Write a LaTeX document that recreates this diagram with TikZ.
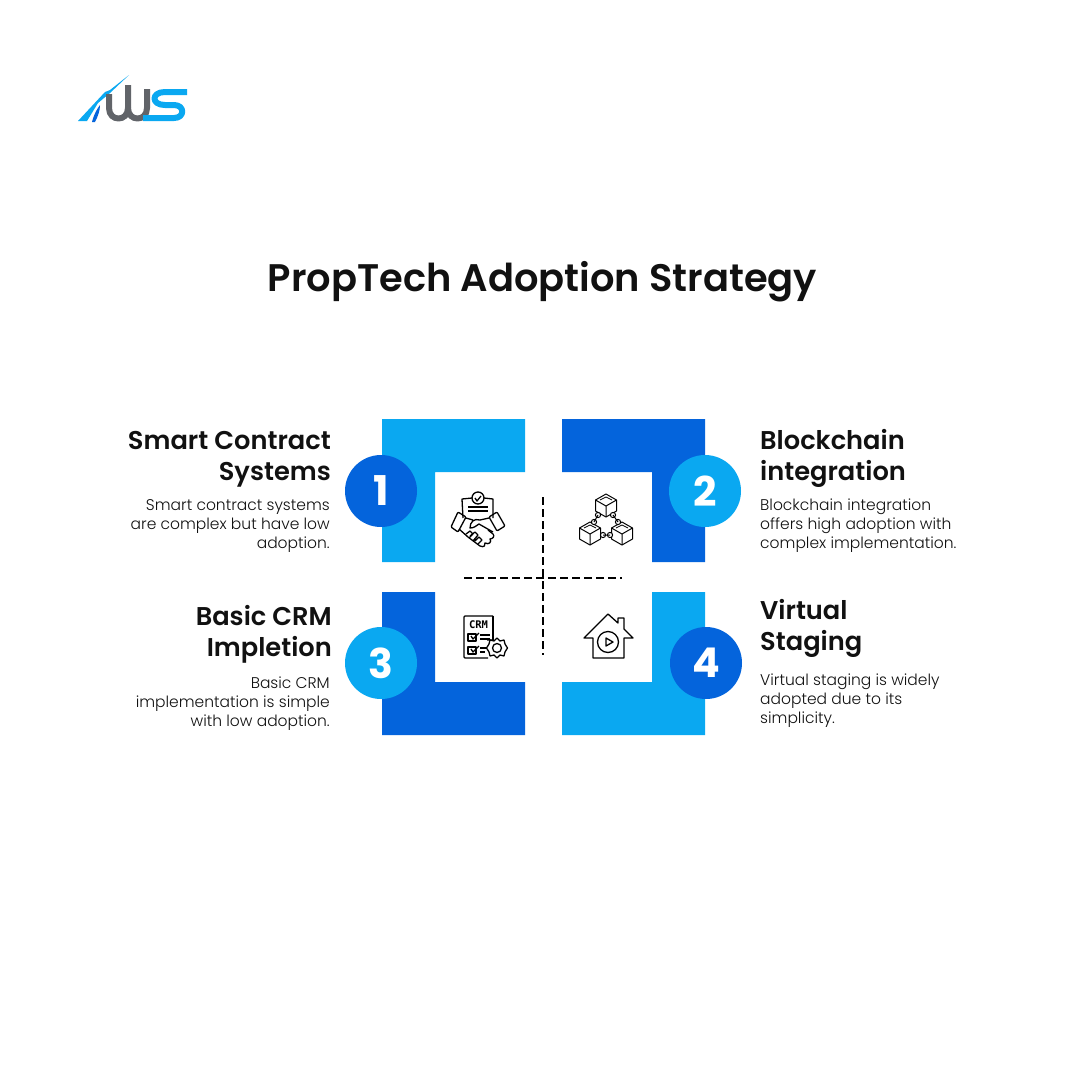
\documentclass[tikz,border=0pt]{standalone}
\usepackage{fontspec}
\setmainfont{Poppins}
\newfontfamily\headfont{Poppins SemiBold}
\newfontfamily\copyfont{Poppins Light}
\newfontfamily\crmfont{DejaVu Sans Mono}
\definecolor{skyblue}{HTML}{0AA8F1}
\definecolor{deepblue}{HTML}{0464DC}
\definecolor{logogray}{HTML}{616469}
\definecolor{inkblack}{HTML}{111111}

\begin{document}
\begin{tikzpicture}[
  x = 1pt,
  y = -1pt,
  line join = round,
  title/.style = {
    font = \fontsize{38.4}{46}\selectfont\headfont, text = inkblack, inner sep = 0pt},
  heading/.style = {
    font = \fontsize{25.7}{31}\selectfont\headfont, text = inkblack, inner sep = 0pt},
  copy/.style = {
    font = \fontsize{15.5}{19}\selectfont\copyfont, text = inkblack, inner sep = 0pt},
  badge/.style = {
    circle, minimum size = 72pt, inner sep = 0pt, text = white,
    font = \fontsize{41}{41}\selectfont\bfseries},
  icon/.style = {
    draw = black, line width = 1.3pt, fill = none},
  divider/.style = {
    draw = black, line width = 1.4pt, dash pattern = on 8pt off 4pt}
  ]
  \useasboundingbox (0,0) rectangle (1080,1080);
  \fill [white] (0,0) rectangle (1080,1080);

  % logo
  \fill [skyblue] (78,121) -- (105,92) -- (110,90) -- (129,75) -- (110,93) -- (98,103) -- (87,121) -- cycle;
  \fill [deepblue] (92,122) .. controls (94,114) and (97,109) .. (100,105) .. controls (100,111) and (98,116) .. (95,122) -- cycle;
  \draw [logogray, line width = 6pt] (109,94) -- (109,108) .. controls (109,122) and (128,122) .. (128,108) -- (128,85);
  \draw [logogray, line width = 6pt] (128,108) .. controls (128,122) and (147,122) .. (147,108) -- (147,89);
  \draw [skyblue, line width = 6pt] (187,92) -- (165,92) .. controls (151,92) and (151,105) .. (165,105)
    -- (174,105) .. controls (185,105) and (185,118) .. (174,118) -- (143,118);

  \node [title] (heading main) at (542.5,282) {PropTech Adoption Strategy};

  % corner blocks
  \fill [skyblue] (382,419) -| (525,472) -| (435,562) -| cycle;
  \fill [deepblue] (562,419) -| (705,562) -| (652,472) -| cycle;
  \fill [deepblue] (382,592) -| (435,682) -| (525,735) -| cycle;
  \fill [skyblue] (652,592) -| (705,735) -| (562,682) -| cycle;

  % dashed cross
  \coordinate (cross top) at (543,497);
  \coordinate (cross bottom) at (543,655);
  \coordinate (cross left) at (464,578);
  \coordinate (cross right) at (622,578);
  \draw [divider] (cross top) -- (cross bottom);
  \draw [divider] (cross left) -- (cross right);

  \node [badge, fill = deepblue] (badge one) at (381,491) {1};
  \node [badge, fill = skyblue] (badge two) at (705,491) {2};
  \node [badge, fill = skyblue] (badge three) at (381,663) {3};
  \node [badge, fill = deepblue] (badge four) at (706,663) {4};

  \node [heading, anchor = north east, align = right] (head one) at (331,431.5) {Smart Contract\\Systems};
  \node [heading, anchor = north west, align = left] (head two) at (760,429.5) {Blockchain\\integration};
  \node [heading, anchor = north east, align = right] (head three) at (332,605.5) {Basic CRM\\Impletion};
  \node [heading, anchor = north west, align = left] (head four) at (760,599.5) {Virtual\\Staging};

  \node [copy, anchor = north east, align = right] (copy one) at (330,499)
    {Smart contract systems\\are complex but have low\\adoption.};
  \node [copy, anchor = north west, align = left] (copy two) at (760,499)
    {Blockchain integration\\offers high adoption with\\complex implementation.};
  \node [copy, anchor = north east, align = right] (copy three) at (330,677)
    {Basic CRM\\implementation is simple\\with low adoption.};
  \node [copy, anchor = north west, align = left] (copy four) at (760,674)
    {Virtual staging is widely\\adopted due to its\\simplicity.};

  % handshake icon
  \draw [icon] (463,518) -- (462,499) -- (472,498) (484,498) -- (493,499) -- (493,518);
  \draw [icon] (478,498) circle (6);
  \draw [icon] (475,498) -- (477,501) -- (481,496);
  \draw [icon] (468,507) -- (488,507) (468,511) -- (488,511);
  \draw [icon, rounded corners = 1pt] (458,512) -- (466,517) -- (458,532) -- (451,527) -- cycle;
  \draw [icon, rounded corners = 1pt] (497,512) -- (489,517) -- (497,531) -- (505,526) -- cycle;
  \draw [icon] (466,518) -- (473,520) (489,518) -- (480,520) .. controls (474,518) and (470,522) .. (470,528) .. controls (474,528) and (476,526) .. (479,524) -- (493,532);
  \draw [icon] (459,529) -- (468,537) -- (480,546) .. controls (484,548) and (486,545) .. (485,543) .. controls (489,545) and (492,542) .. (490,539) .. controls (493,539) and (495,536) .. (493,534) -- (488,530);
  \draw [icon] (466,534) -- (470,531) -- (473,534) -- (469,538) (470,536) -- (475,532) -- (478,535) -- (473,541) (475,541) -- (479,537) -- (482,540) -- (478,544);

  % blockchain icon
  \foreach \cx/\cy in {606/505, 590/533, 622/533} {
    \draw [icon, line width = 1pt] (\cx,\cy-11) -- (\cx+10.5,\cy-5) -- (\cx+10.5,\cy+6) -- (\cx,\cy+12) -- (\cx-10.5,\cy+6) -- (\cx-10.5,\cy-5) -- cycle;
    \draw [icon, line width = 1pt] (\cx-10.5,\cy-5) -- (\cx,\cy+1) -- (\cx+10.5,\cy-5) (\cx,\cy+1) -- (\cx,\cy+12);
    \draw [icon, line width = 0.7pt] (\cx-6,\cy-5) -- (\cx,\cy-8) -- (\cx+6,\cy-5);
  }
  \foreach \lx/\ly in {598/515, 594/522, 613/515, 618/522, 603/535, 610/535}
    \draw [icon, fill = white, line width = 1pt] (\lx,\ly) circle (2.6);
  \draw [icon, line width = 1pt] (598,515) -- (594,522) (613,515) -- (618,522) (603,535) -- (610,535);

  % crm icon
  \draw [icon, rounded corners = 1pt] (487,640) -- (493,640) (493,616) -- (464,616) -- (464,658) -- (488,658);
  \draw [icon] (493,616) -- (493,640);
  \node [inner sep = 0pt, font = \fontsize{10.5}{10.5}\selectfont\crmfont\bfseries] (crm label) at (478.5,625) {CRM};
  \draw [icon] (468,634) rectangle (476,641) (468,647) rectangle (476,654);
  \draw [icon] (471,636) -- (473,639) -- (479,633) (471,649) -- (473,652) -- (479,646);
  \draw [icon] (480,635) -- (490,635) (480,639) -- (490,639) (480,648) -- (486,648) (480,652) -- (485,652);
  \draw [icon, fill = white] (497,638) -- (500,641) -- (504,640) -- (505,644) -- (507.5,648) -- (505,652) -- (504,656) -- (500,655) -- (497,658) -- (494,655) -- (490,656) -- (489,652) -- (486.5,648) -- (489,644) -- (490,640) -- (494,641) -- cycle;
  \draw [icon] (497,648) circle (4.5);

  % house icon
  \draw [icon] (593,638) -- (593,658) -- (624,658) -- (624,638) -- (633,638) -- (624,629) -- (624,618) -- (618,618) -- (618,623) -- (608,614) -- (584,638) -- cycle;
  \draw [icon] (608,642) circle (10.5);
  \draw [icon] (606,638) -- (613,642) -- (606,646) -- cycle;
\end{tikzpicture}
\end{document}
